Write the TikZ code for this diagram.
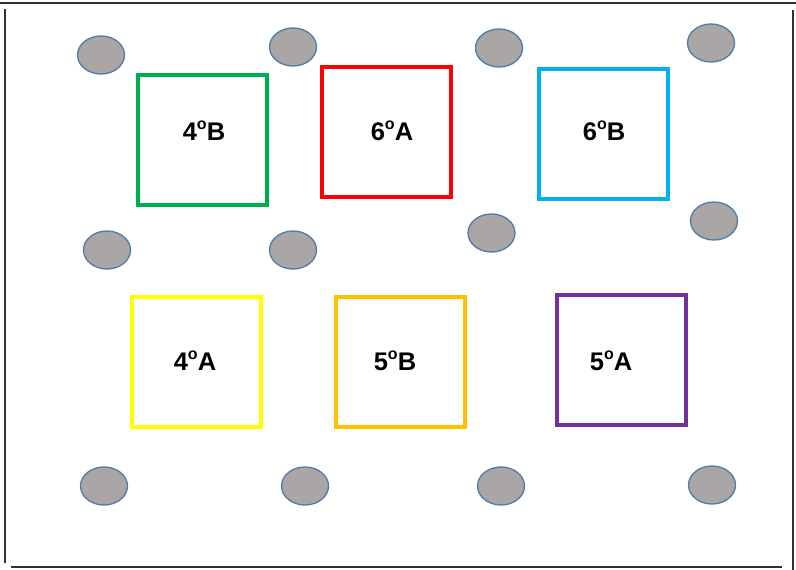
\documentclass[tikz,border=0pt]{standalone}
\usepackage{fontspec}
\setmainfont{Liberation Sans}
\usetikzlibrary{shapes.geometric}
\definecolor{cgreen}{HTML}{00B050}
\definecolor{cred}{HTML}{FF0000}
\definecolor{ccyan}{HTML}{00B0F0}
\definecolor{cyellow}{HTML}{FFFF00}
\definecolor{corange}{HTML}{FFC000}
\definecolor{cpurple}{HTML}{7030A0}
\definecolor{dotfill}{RGB}{170,166,166}
\definecolor{dotline}{RGB}{80,122,168}
\definecolor{frameline}{RGB}{50,50,50}
\newcommand{\ordo}{\raisebox{0.42em}{\fontsize{16}{16}\selectfont o}}
\begin{document}
\begin{tikzpicture}[x=1pt,y=-1pt,
  roombox/.style={draw, line width=4pt, minimum width=129pt, minimum height=130pt, inner sep=0pt},
  lbl/.style={font=\bfseries\fontsize{25.5}{28}\selectfont, inner sep=0pt},
  dot/.style={draw=dotline, fill=dotfill, line width=1.3pt, ellipse, minimum width=47pt, minimum height=38pt, inner sep=0pt},
  frame/.style={draw=frameline, line width=1.8pt}]
\useasboundingbox (0,0) rectangle (796,570);
% frame
\coordinate (tl) at (0,3);
\coordinate (tr) at (796,3);
\coordinate (l1) at (5,9);
\coordinate (l2) at (5,563);
\coordinate (b1) at (11,567);
\coordinate (b2) at (782,567);
\coordinate (r1) at (793,10);
\coordinate (r2) at (793,570);
\draw[frame] (tl) -- (tr);
\draw[frame] (l1) -- (l2);
\draw[frame] (b1) -- (b2);
\draw[frame] (r1) -- (r2);
% rooms
\node[roombox, draw=cgreen] (b4) at (202.5,140) {};
\node[roombox, draw=cred] (a6) at (386.5,131.5) {};
\node[roombox, draw=ccyan] (b6) at (603.5,133.5) {};
\node[roombox, draw=cyellow] (a4) at (196,362) {};
\node[roombox, draw=corange] (b5) at (400.5,362) {};
\node[roombox, draw=cpurple] (a5) at (621,360) {};
\node[lbl] (tb4) at (204,131) {4\ordo B};
\node[lbl] (ta6) at (392,131) {6\ordo A};
\node[lbl] (tb6) at (604,131) {6\ordo B};
\node[lbl] (ta4) at (195,361) {4\ordo A};
\node[lbl] (tb5) at (395,361) {5\ordo B};
\node[lbl] (ta5) at (611,361) {5\ordo A};
% dots
\node[dot] (d1) at (101,55) {};
\node[dot] (d2) at (293,47) {};
\node[dot] (d3) at (499,48) {};
\node[dot] (d4) at (711,43) {};
\node[dot] (d5) at (107,250) {};
\node[dot] (d6) at (293,250) {};
\node[dot] (d7) at (491.5,233) {};
\node[dot] (d8) at (714,221) {};
\node[dot] (d9) at (104,486) {};
\node[dot] (d10) at (305,486) {};
\node[dot] (d11) at (501,486) {};
\node[dot] (d12) at (712,485) {};
\end{tikzpicture}
\end{document}
